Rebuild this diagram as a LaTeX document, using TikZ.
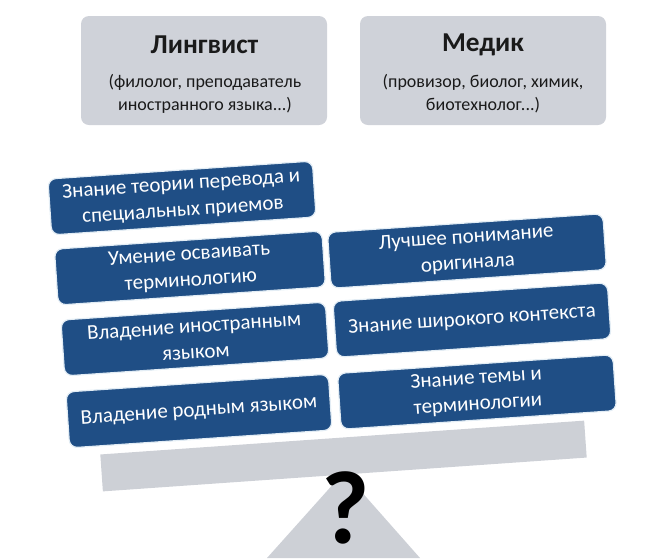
\documentclass[tikz,border=0pt]{standalone}
\usepackage{fontspec}
\setmainfont{Carlito}
\definecolor{bluebox}{HTML}{1F4E85}
\definecolor{glow}{HTML}{E3EDF5}
\definecolor{graybox}{HTML}{CFD2D9}
\definecolor{beamgray}{HTML}{CDD0D6}
\definecolor{txtdark}{HTML}{1A1A1A}
\tikzset{
  rolebox/.style={fill=graybox,rounded corners=8pt,minimum width=246pt,minimum height=109pt,inner sep=0pt},
  skill/.style={fill=bluebox,draw=glow,line width=1.2pt,rounded corners=8pt,text=white,align=center,font=\fontsize{21}{26}\selectfont,rotate=3.9,inner sep=0pt,minimum height=56pt},
  rolehead/.style={font=\bfseries\fontsize{27.3}{30}\selectfont,text=txtdark,inner sep=0pt},
  rolesub/.style={font=\fontsize{18}{23}\selectfont,text=txtdark,align=center,inner sep=0pt}
}
\begin{document}
\begin{tikzpicture}[x=1pt,y=-1pt]
\useasboundingbox (0,0) rectangle (660,558);
\node[rolebox] (a) at (204,70.5) {};
\node[rolebox] (b) at (483,70.5) {};
\node[rolehead] (at) at (204.5,45) {Лингвист};
\node[rolehead] (bt) at (483,45) {Медик};
\node[rolesub] (as) at (205,93.5) {(филолог, преподаватель\\иностранного языка...)};
\node[rolesub] (bs) at (483,93.5) {(провизор, биолог, химик,\\биотехнолог...)};

\node[fill=beamgray,rotate=4,minimum width=485pt,minimum height=37pt,inner sep=0pt] (beam) at (343.5,456) {};
\path[fill=beamgray] (344,472) -- (420,558) -- (267,558) -- cycle;
\node[font=\bfseries\fontsize{104}{104}\selectfont,text=black,inner sep=0pt] (q) at (346,508) {?};

\node[skill,minimum width=265pt] (l1) at (182,198) {Знание теории перевода и\\специальных приемов};
\node[skill,minimum width=268pt] (l2) at (190,268) {Умение осваивать\\терминологию};
\node[skill,minimum width=265pt] (l3) at (195,339) {Владение иностранным\\языком};
\node[skill,minimum width=263pt] (l4) at (199,411) {Владение родным языком};
\node[skill,minimum width=276pt] (r1) at (467,251) {Лучшее понимание\\оригинала};
\node[skill,minimum width=275pt] (r2) at (472,320) {Знание широкого контекста};
\node[skill,minimum width=276pt] (r3) at (477,392) {Знание темы и\\терминологии};
\end{tikzpicture}
\end{document}
